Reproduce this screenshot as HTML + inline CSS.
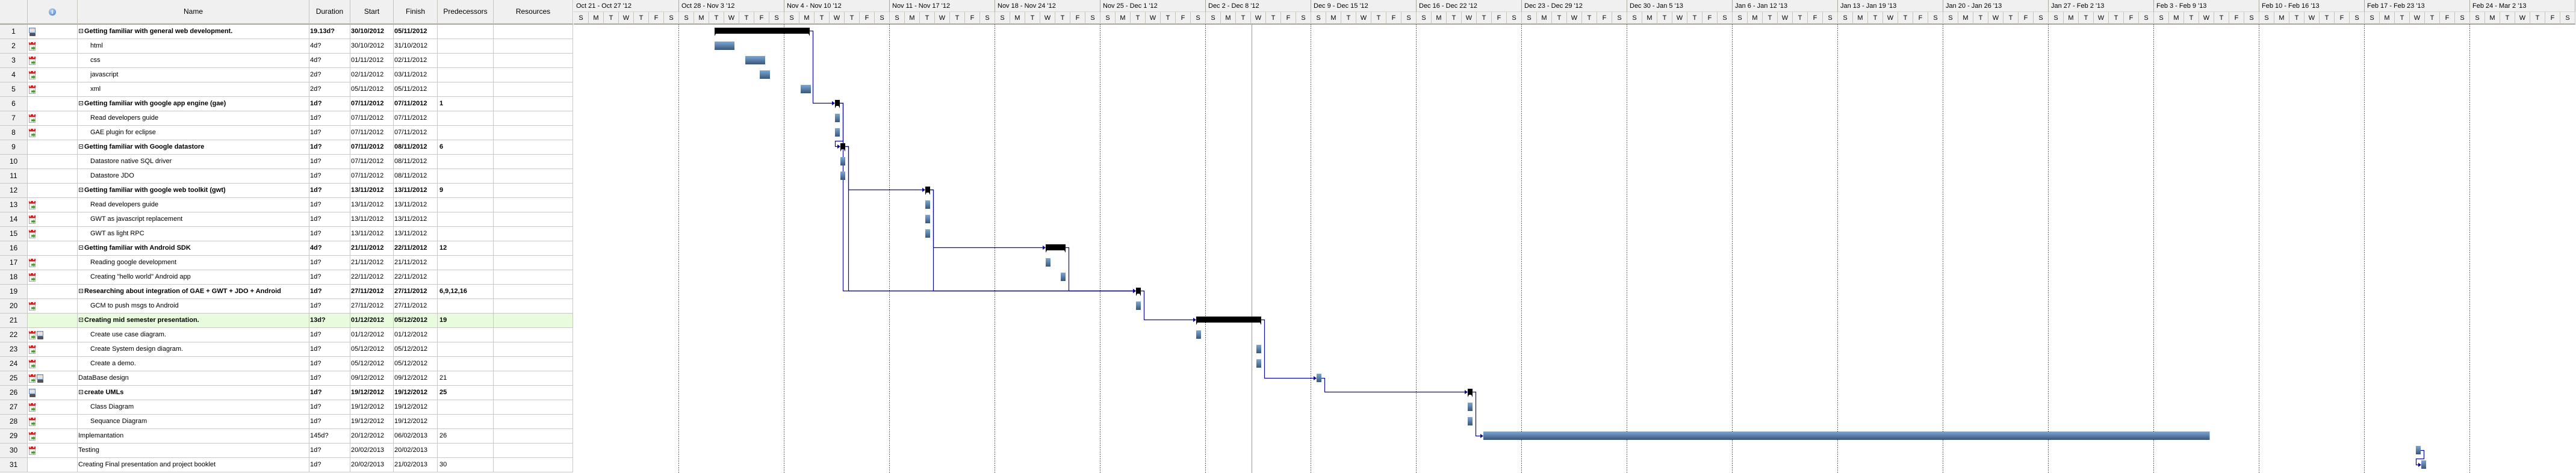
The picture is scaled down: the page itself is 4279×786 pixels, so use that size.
<!DOCTYPE html>
<html><head><meta charset="utf-8">
<style>
html,body{margin:0;padding:0;background:#fff;}
body{width:4279px;height:786px;overflow:hidden;position:relative;font-family:"Liberation Sans",sans-serif;font-size:11px;color:#000;}
.abs{position:absolute;}
.hdr{position:absolute;background:#f0f0f0;border-right:1px solid #c8c4b8;border-bottom:2px solid #aca899;box-sizing:border-box;text-align:center;line-height:39px;font-size:12px;}
.row{position:absolute;left:0;width:952px;height:24px;box-sizing:border-box;border-bottom:1px solid #c8c8c8;}
.cell{position:absolute;top:0;height:23px;line-height:23px;box-sizing:border-box;border-right:1px solid #c8c8c8;white-space:nowrap;overflow:hidden;font-size:11px;}
.num{background:#f0f0f0;text-align:center;font-size:12px;}
.b{font-weight:bold;}
.cal{position:absolute;width:11px;height:15px;top:4px;}
.wk{position:absolute;top:0;height:20px;line-height:20px;background:#f0f0f0;border-right:1px solid #aca899;border-bottom:1px solid #d8d4c8;box-sizing:border-box;padding-left:4px;font-size:11px;}
.dy{position:absolute;top:20px;height:21px;line-height:20px;width:25px;background:#f0f0f0;border-right:1px solid #c8c4b8;border-bottom:2px solid #aca899;box-sizing:border-box;text-align:center;font-size:11px;}
</style></head>
<body>
<div id="table"></div>
<div id="gantt" class="abs" style="left:953px;top:0;width:3326px;height:786px;">
<svg id="gsvg" width="3326" height="786" style="position:absolute;left:0;top:0">
<defs><linearGradient id="tb" x1="0" y1="0" x2="0" y2="1"><stop offset="0" stop-color="#7aa8da"/><stop offset="1" stop-color="#3c5675"/></linearGradient></defs>
</svg>
</div>
<script>
const names=["Getting familiar with general web development.","html","css","javascript","xml","Getting familiar with google app engine (gae)","Read developers guide","GAE plugin for eclipse","Getting familiar with Google datastore","Datastore native SQL driver","Datastore JDO","Getting familiar with google web toolkit (gwt)","Read developers guide","GWT as javascript replacement","GWT as light RPC","Getting familiar with Android SDK","Reading google development","Creating \"hello world\" Android app","Researching about integration of GAE + GWT + JDO + Android","GCM to push msgs to Android","Creating mid semester presentation.","Create use case diagram.","Create System design diagram.","Create a demo.","DataBase design","create UMLs","Class Diagram","Sequance Diagram","Implemantation","Testing","Creating Final presentation and project booklet"];
const durations=["19.13d?","4d?","4d?","2d?","2d?","1d?","1d?","1d?","1d?","1d?","1d?","1d?","1d?","1d?","1d?","4d?","1d?","1d?","1d?","1d?","13d?","1d?","1d?","1d?","1d?","1d?","1d?","1d?","145d?","1d?","1d?"];
const starts=["30/10/2012","30/10/2012","01/11/2012","02/11/2012","05/11/2012","07/11/2012","07/11/2012","07/11/2012","07/11/2012","07/11/2012","07/11/2012","13/11/2012","13/11/2012","13/11/2012","13/11/2012","21/11/2012","21/11/2012","22/11/2012","27/11/2012","27/11/2012","01/12/2012","01/12/2012","05/12/2012","05/12/2012","09/12/2012","19/12/2012","19/12/2012","19/12/2012","20/12/2012","20/02/2013","20/02/2013"];
const finishes=["05/11/2012","31/10/2012","02/11/2012","03/11/2012","05/11/2012","07/11/2012","07/11/2012","07/11/2012","08/11/2012","08/11/2012","08/11/2012","13/11/2012","13/11/2012","13/11/2012","13/11/2012","22/11/2012","21/11/2012","22/11/2012","27/11/2012","27/11/2012","05/12/2012","01/12/2012","05/12/2012","05/12/2012","09/12/2012","19/12/2012","19/12/2012","19/12/2012","06/02/2013","20/02/2013","21/02/2013"];
const preds=["","","","","","1","","","6","","","9","","","","12","","","6,9,12,16","","19","","","","21","25","","","26","","30"];
// level: 0 = top-level task, 1 = summary, 2 = subtask
const levels=[1,2,2,2,2,1,2,2,1,2,2,1,2,2,2,1,2,2,1,2,1,2,2,2,0,1,2,2,0,0,0];
const icons=["s","c","c","c","c","","c","c","","","","","c","c","c","","c","c","","c","","cs","c","c","cs","s","c","c","c","c",""];
// bar positions in days since Sun Oct 21 2012
const barStart=[9.36,9.36,11.4,12.36,15.08,17.36,17.36,17.36,17.72,17.72,17.72,23.36,23.36,23.36,23.36,31.36,31.36,32.36,37.36,37.36,41.36,41.36,45.36,45.36,49.36,59.4,59.4,59.4,60.44,122.4,122.76];
const barEnd=[15.68,10.68,12.72,13.04,15.76,17.68,17.68,17.68,18.04,18.04,18.04,23.68,23.68,23.68,23.68,32.68,31.68,32.68,37.68,37.68,45.68,41.68,45.68,45.68,49.68,59.72,59.72,59.72,108.7,122.72,123.08];
const weekLabels=["Oct 21 - Oct 27 '12","Oct 28 - Nov 3 '12","Nov 4 - Nov 10 '12","Nov 11 - Nov 17 '12","Nov 18 - Nov 24 '12","Nov 25 - Dec 1 '12","Dec 2 - Dec 8 '12","Dec 9 - Dec 15 '12","Dec 16 - Dec 22 '12","Dec 23 - Dec 29 '12","Dec 30 - Jan 5 '13","Jan 6 - Jan 12 '13","Jan 13 - Jan 19 '13","Jan 20 - Jan 26 '13","Jan 27 - Feb 2 '13","Feb 3 - Feb 9 '13","Feb 10 - Feb 16 '13","Feb 17 - Feb 23 '13","Feb 24 - Mar 2 '13"];
const dayLetters=["S","M","T","W","T","F","S"];
const todayDay=45.04;

const DAY=25, ROW=24, TOP=41;
const xS=d=>d*DAY;
const yRow=i=>TOP+i*ROW;

// ---------- table ----------
const T=document.getElementById('table');
const cols=[[0,46],[46,129],[129,514],[514,582],[582,654],[654,727],[727,820],[820,952]];
const heads=["","","Name","Duration","Start","Finish","Predecessors","Resources"];
const hnames=["row-number-header","info-header","name-header","duration-header","start-header","finish-header","predecessors-header","resources-header"];
cols.forEach((c,k)=>{
  const h=document.createElement('div');
  h.className='hdr';
  h.style.cssText=`left:${c[0]}px;top:0;width:${c[1]-c[0]}px;height:41px;`;
  
  
  if(k==1){h.innerHTML='<span style="display:inline-block;width:12px;height:12px;border-radius:50%;background:radial-gradient(circle at 40% 35%,#bcd6f5,#3c78c8);color:#fff;font-size:9px;line-height:12px;font-weight:bold;font-family:\'Liberation Serif\',serif;vertical-align:middle">i</span>';}
  else h.textContent=heads[k];
  T.appendChild(h);
});
function calIcon(x){return `<div class="cal" style="left:${x}px"><div style="position:absolute;left:0;top:1px;width:11px;height:4px;background:#d52020"></div><div style="position:absolute;left:1px;top:0;width:2px;height:3px;background:#fff"></div><div style="position:absolute;left:7px;top:0;width:2px;height:3px;background:#fff"></div><div style="position:absolute;left:0;top:5px;width:11px;height:10px;background:#eee;border:1px solid #aaa;box-sizing:border-box"></div><div style="position:absolute;left:4px;top:8px;width:7px;height:6px;background:#4a9a2a;clip-path:polygon(0 25%,50% 25%,50% 0,100% 50%,50% 100%,50% 75%,0 75%)"></div></div>`;}
function sumIcon(x){return `<div class="cal" style="left:${x}px"><div style="position:absolute;left:0;top:1px;width:11px;height:9px;background:linear-gradient(#f5c38a,#e9e9e9 40%,#c8d8f0);border:1px solid #6a86b0;box-sizing:border-box"></div><div style="position:absolute;left:1px;top:10px;width:10px;height:5px;background:#555;border-radius:1px"></div></div>`;}
names.forEach((n,i)=>{
  const r=document.createElement('div');
  r.className='row';
  r.style.top=yRow(i)+'px';
  if(i==20) r.style.background='#e8fbdc';
  
  
  const bold=levels[i]==1?' b':'';
  let ic='';
  if(icons[i]=='c') ic=calIcon(2);
  else if(icons[i]=='s') ic=sumIcon(2);
  else if(icons[i]=='cs') ic=calIcon(2)+sumIcon(15);
  let nm='';
  if(levels[i]==1) nm=`<span style="position:absolute;left:2px;top:7px;width:7px;height:7px;border:1px solid #333;box-sizing:border-box;font-size:8px"><span style="position:absolute;left:1px;top:2px;width:3px;height:1px;background:#333"></span></span><span style="position:absolute;left:11px">${n.replace(/</g,'&lt;')}</span>`;
  else if(levels[i]==2) nm=`<span style="position:absolute;left:21px">${n}</span>`;
  else nm=`<span style="position:absolute;left:1px">${n}</span>`;
  r.innerHTML=`<div class="cell num" style="left:0;width:46px;${i==20?'':''}">${i+1}</div>`+
   `<div class="cell" style="left:46px;width:83px">${ic}</div>`+
   `<div class="cell${bold}" style="left:129px;width:385px">${nm}</div>`+
   `<div class="cell${bold}" style="left:514px;width:68px;padding-left:1px">${durations[i]}</div>`+
   `<div class="cell${bold}" style="left:582px;width:72px;padding-left:1px">${starts[i]}</div>`+
   `<div class="cell${bold}" style="left:654px;width:73px;padding-left:1px">${finishes[i]}</div>`+
   `<div class="cell${bold}" style="left:727px;width:93px;padding-left:3px">${preds[i]}</div>`+
   `<div class="cell" style="left:820px;width:132px"></div>`;
  T.appendChild(r);
});

// ---------- gantt ----------
const G=document.getElementById('gantt');
const S=document.getElementById('gsvg');
const NS='http://www.w3.org/2000/svg';
weekLabels.forEach((w,k)=>{
  const d=document.createElement('div');
  d.className='wk';
  d.style.left=xS(k*7)+'px';d.style.width=(7*DAY)+'px';
  d.textContent=w;
  
  
  G.appendChild(d);
  for(let j=0;j<7;j++){
    const e=document.createElement('div');
    e.className='dy';
    e.style.left=xS(k*7+j)+'px';
    e.textContent=dayLetters[j];
    
    
    G.appendChild(e);
  }
  if(k>0){
    const l=document.createElementNS(NS,'line');
    l.setAttribute('x1',xS(k*7)-0.5);l.setAttribute('x2',xS(k*7)-0.5);
    l.setAttribute('y1',41);l.setAttribute('y2',786);
    l.setAttribute('stroke','#000');l.setAttribute('stroke-dasharray','1,2');
    
    
    S.appendChild(l);
  }
});
const tl=document.createElementNS(NS,'line');
tl.setAttribute('x1',xS(todayDay)+0.5);tl.setAttribute('x2',xS(todayDay)+0.5);
tl.setAttribute('y1',41);tl.setAttribute('y2',786);
tl.setAttribute('stroke','#6f9fdc');


S.appendChild(tl);

const isSum=i=>levels[i]==1;
const midY=i=>yRow(i)+(isSum(i)?10:11);
// links
preds.forEach((p,s)=>{
  if(!p) return;
  p.split(',').forEach(q=>{
    const pi=parseInt(q)-1;
    const x1=Math.round(xS(barEnd[pi])), xv=x1+5, y1=midY(pi)+0.5, y2=midY(s)+0.5, xs=Math.round(xS(barStart[s]));
    let d;
    if(xs>=xv+3) d=`M${x1},${y1}H${xv+0.5}V${y2}H${xs-1}`;
    else d=`M${x1},${y1}H${xv+0.5}V${yRow(s)+1.5}H${xs-8.5}V${y2}H${xs-1}`;
    const pa=document.createElementNS(NS,'path');
    pa.setAttribute('d',d);pa.setAttribute('fill','none');pa.setAttribute('stroke','#0a0a96');pa.setAttribute('stroke-width','1.2');
    
    
    S.appendChild(pa);
    const ar=document.createElementNS(NS,'path');
    ar.setAttribute('d',`M${xs},${y2}L${xs-5},${y2-3.5}L${xs-5},${y2+3.5}Z`);
    ar.setAttribute('fill','#0a0a96');
    
    
    S.appendChild(ar);
  });
});
// bars
names.forEach((n,i)=>{
  const x=xS(barStart[i]), w=xS(barEnd[i])-xS(barStart[i]);
  if(isSum(i)){
    const r=document.createElementNS(NS,'path');
    const y=yRow(i)+5;
    r.setAttribute('d',`M${x},${y}h${w}v14l-2,-4h${-(w-4)}l-2,4z`);
    r.setAttribute('fill','#000');
    
    
    S.appendChild(r);
  } else {
    const r=document.createElementNS(NS,'rect');
    r.setAttribute('x',x);r.setAttribute('y',yRow(i)+4);
    r.setAttribute('width',w);r.setAttribute('height',14);
    r.setAttribute('fill','url(#tb)');
    
    
    S.appendChild(r);
  }
});
</script>
</body></html>
